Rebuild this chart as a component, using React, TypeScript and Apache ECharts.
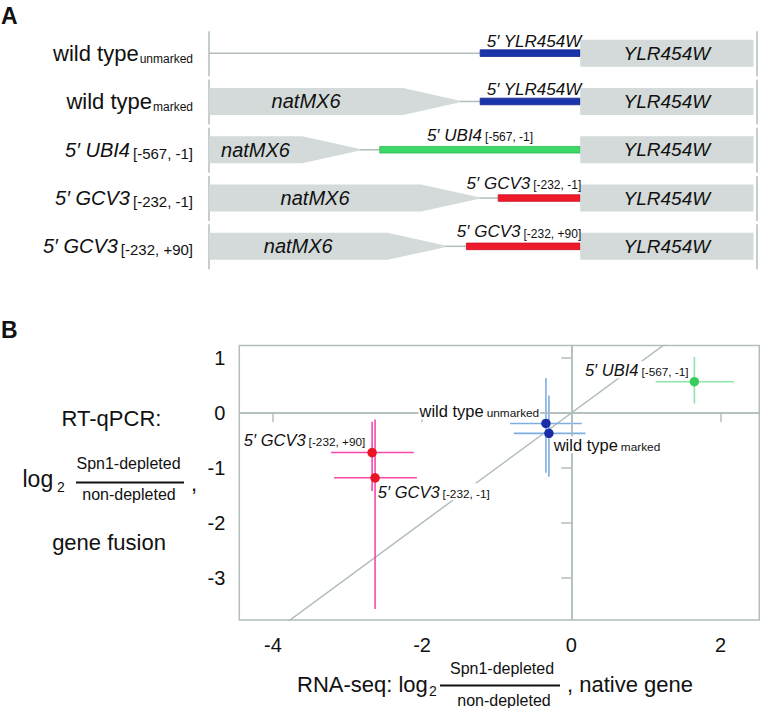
import React, { useEffect, useRef } from 'react';
import * as echarts from 'echarts';

// ---------- Panel A: constructs (positions in bp relative to the YLR454W start codon) ----------
const constructNames = ['wild type|unmarked', 'wild type|marked', '5′ UBI4|[-567, -1]', '5′ GCV3|[-232, -1]', '5′ GCV3|[-232, +90]'];
const natMX6End: (number | null)[] = [null, -501, -787, -450, -545];
const natMX6TaperEnd: (number | null)[] = [null, -340, -623, -286, -382];
const fusionStart = [-283, -283, -567, -232, -322];
const fusionEnd = [0, 0, 0, 0, 0];
const orfEnd = [490, 490, 490, 490, 490];
const fusionLabels = ['5′ YLR454W|', '5′ YLR454W|', '5′ UBI4|[-567, -1]', '5′ GCV3|[-232, -1]', '5′ GCV3|[-232, +90]'];
const markerName = 'natMX6';
const orfName = 'YLR454W';
const bpRange = [-1050, 500];

// ---------- Panel B: RT-qPCR vs RNA-seq ----------
const pointNames = ['wild type|unmarked', 'wild type|marked', '5′ UBI4|[-567, -1]', '5′ GCV3|[-232, -1]', '5′ GCV3|[-232, +90]'];
const rnaSeqLog2 = [-0.34, -0.30, 1.65, -2.63, -2.67];
const rtqpcrLog2 = [-0.19, -0.37, 0.57, -1.18, -0.72];
const rnaSeqLow = [-0.82, -0.77, 1.13, -3.18, -3.22];
const rnaSeqHigh = [0.14, 0.19, 2.18, -2.07, -2.11];
const rtqpcrLow = [-1.09, -1.16, 0.17, -3.57, -1.42];
const rtqpcrHigh = [0.64, 0.32, 1.02, -0.12, -0.16];
const xTicks = [-4, -2, 0, 2];
const yTicks = [-3, -2, -1, 0, 1];
const xRange = [-4.45, 2.52];
const yRange = [-3.77, 1.23];
const identityLine = [[-5, -5], [3, 3]];

// ---------- styles ----------
const FONT = "'Liberation Sans', Arial, Helvetica, sans-serif";
const INK = '#111111';
const GRAY_LINE = '#b1bebc';
const BOX_FILL = '#d3dad9';
const fusionColors = ['#1c34aa', '#1c34aa', '#3cd967', '#ee1a2c', '#ee1a2c'];
const fusionStroke = ['#14258c', '#14258c', '#2fb956', '#cc1222', '#cc1222'];
const fusionLabelAlign = ['right', 'right', 'center', 'right', 'right'];
const dotColors = ['#1a2ca8', '#1a2ca8', '#38cc5a', '#ea1423', '#ea1423'];
const errColors = ['#7eaee2', '#7eaee2', '#90e6a8', '#f548ad', '#f548ad'];
const labelPlacement: any[] = [
  { position: 'left', distance: 1, offset: [0, -12.5] },
  { position: 'right', distance: 0, offset: [-1, 11.5] },
  { position: 'left', distance: 0, offset: [0, -12] },
  { position: 'right', distance: 0, offset: [-3, 14] },
  { position: 'left', distance: 1, offset: [0, -13] },
];

function buildOption(): any {
  const rowLabelRich = {
    mw: { fontSize: 22, fontFamily: FONT, color: INK },
    mi: { fontSize: 20, fontStyle: 'italic', fontFamily: FONT, color: INK },
    ss: { fontSize: 12, fontFamily: FONT, color: INK, padding: [11, 0, 0, 1] },
    sb: { fontSize: 15, fontFamily: FONT, color: INK, padding: [7, 0, 0, 3] },
  };

  const pointLabelRich = {
    mw: { fontSize: 16.5, fontFamily: FONT, color: INK },
    mi: { fontSize: 16.5, fontStyle: 'italic', fontFamily: FONT, color: INK },
    s: { fontSize: 11.8, fontFamily: FONT, color: INK, padding: [4, 0, 0, 3] },
  };

  const constructRender = (params: any, api: any) => {
    const i = params.dataIndex;
    const row = api.value(1);
    const cs = params.coordSys;
    const xl = cs.x;
    const xr = cs.x + cs.width;
    const yc = api.coord([0, row])[1];
    const h = 27;
    const children: any[] = [];
    children.push({ type: 'line', shape: { x1: xl, y1: yc - 22, x2: xl, y2: yc + 23 }, style: { stroke: GRAY_LINE, lineWidth: 1.5 } });
    children.push({ type: 'line', shape: { x1: xr, y1: yc - 22, x2: xr, y2: yc + 23 }, style: { stroke: GRAY_LINE, lineWidth: 1.5 } });
    const xs = api.coord([fusionStart[i], row])[0];
    const xf = api.coord([fusionEnd[i], row])[0];
    const xe = api.coord([orfEnd[i], row])[0];
    let lineStart = xl;
    const ne = natMX6End[i];
    const te = natMX6TaperEnd[i];
    if (ne != null && te != null) {
      const xn = api.coord([ne, row])[0];
      const xt = api.coord([te, row])[0];
      children.push({
        type: 'polygon',
        shape: { points: [[xl, yc - h / 2], [xn, yc - h / 2], [xt, yc - 0.8], [xt, yc + 0.8], [xn, yc + h / 2], [xl, yc + h / 2]] },
        style: { fill: BOX_FILL },
      });
      children.push({
        type: 'text', x: (xl + xn) / 2, y: yc,
        style: { text: markerName, fontSize: 20, fontStyle: 'italic', fontFamily: FONT, fill: INK, align: 'center', verticalAlign: 'middle' },
      });
      lineStart = xt;
    }
    children.push({ type: 'line', shape: { x1: lineStart, y1: yc, x2: xs, y2: yc }, style: { stroke: GRAY_LINE, lineWidth: 1.5 } });
    children.push({ type: 'rect', shape: { x: xs, y: yc - 3.3, width: xf - xs, height: 6.6 }, style: { fill: fusionColors[i], stroke: fusionStroke[i], lineWidth: 0.8 } });
    children.push({ type: 'rect', shape: { x: xf, y: yc - h / 2, width: xe - xf, height: h }, style: { fill: BOX_FILL } });
    children.push({
      type: 'text', x: (xf + xe) / 2, y: yc,
      style: { text: orfName, fontSize: 19, fontStyle: 'italic', fontFamily: FONT, fill: INK, align: 'center', verticalAlign: 'middle' },
    });
    const [main, sub] = fusionLabels[i].split('|');
    const align = fusionLabelAlign[i];
    const lx = align === 'center' ? (xs + xf) / 2 : xf + 1;
    const text = sub ? `{mi|${main}}{s|${sub}}` : `{mi|${main}}`;
    children.push({
      type: 'text', x: lx, y: yc - (sub ? 14.5 : 11.7),
      style: {
        text, align, verticalAlign: 'middle', fill: INK,
        rich: {
          mi: { fontSize: 17, fontStyle: 'italic', fontFamily: FONT, fill: INK },
          s: { fontSize: 12, fontFamily: FONT, fill: INK, padding: [3.5, 0, 0, 3] },
        },
      },
    });
    return { type: 'group', children };
  };

  const errorRender = (params: any, api: any) => {
    const i = params.dataIndex;
    const l = api.coord([api.value(2), api.value(1)]);
    const r = api.coord([api.value(3), api.value(1)]);
    const b = api.coord([api.value(0), api.value(4)]);
    const t = api.coord([api.value(0), api.value(5)]);
    return {
      type: 'group',
      children: [
        { type: 'line', shape: { x1: l[0], y1: l[1], x2: r[0], y2: r[1] }, style: { stroke: errColors[i], lineWidth: 1.6 } },
        { type: 'line', shape: { x1: t[0], y1: t[1], x2: b[0], y2: b[1] }, style: { stroke: errColors[i], lineWidth: 1.6 } },
      ],
    };
  };

  const txt = (text: string, x: number, y: number, size: number, align = 'center', extra: any = {}) => ({
    type: 'text', x, y, silent: true,
    style: { text, fontSize: size, fontFamily: FONT, fill: INK, align, verticalAlign: 'middle', ...extra },
  });

  return {
    animation: false,
    backgroundColor: '#ffffff',
    textStyle: { fontFamily: FONT },
    grid: [
      { left: 239.3, top: 345.5, width: 520, height: 274.5, show: true, borderColor: GRAY_LINE, borderWidth: 1.5, backgroundColor: 'transparent' },
      { left: 209, top: 29, width: 548, height: 241.5 },
    ],
    xAxis: [
      {
        type: 'value', gridIndex: 0, min: xRange[0], max: xRange[1],
        axisLine: { show: true, lineStyle: { color: GRAY_LINE, width: 1.5 } },
        axisTick: { show: true, length: 9, customValues: xTicks, lineStyle: { color: GRAY_LINE, width: 1.5 } },
        axisLabel: { customValues: xTicks, fontSize: 20, color: INK, margin: 15, fontFamily: FONT },
        splitLine: { show: false },
      },
      { type: 'value', gridIndex: 1, min: bpRange[0], max: bpRange[1], show: false },
    ],
    yAxis: [
      {
        type: 'value', gridIndex: 0, min: yRange[0], max: yRange[1],
        axisLine: { show: true, lineStyle: { color: GRAY_LINE, width: 1.5 } },
        axisTick: { show: true, length: 10, customValues: yTicks, lineStyle: { color: GRAY_LINE, width: 1.5 } },
        axisLabel: { customValues: yTicks, fontSize: 20, color: INK, margin: 14, fontFamily: FONT },
        splitLine: { show: false },
      },
      {
        type: 'category', gridIndex: 1, data: constructNames, inverse: true,
        axisLine: { show: false }, axisTick: { show: false }, splitLine: { show: false },
        axisLabel: {
          margin: 16,
          formatter: (v: string) => {
            const [main, sub] = v.split('|');
            const italic = main.startsWith('5');
            const subStyle = sub.startsWith('[') ? 'sb' : 'ss';
            return `{${italic ? 'mi' : 'mw'}|${main}}{${subStyle}|${sub}}`;
          },
          rich: rowLabelRich,
        },
      },
    ],
    series: [
      {
        type: 'custom', xAxisIndex: 1, yAxisIndex: 1, z: 2,
        data: constructNames.map((n, i) => [fusionStart[i], i]),
        encode: { x: 0, y: 1 },
        renderItem: constructRender,
        silent: true,
      },
      {
        type: 'line', xAxisIndex: 0, yAxisIndex: 0, z: 1,
        data: identityLine, showSymbol: false, symbol: 'none', clip: true, silent: true,
        lineStyle: { color: GRAY_LINE, width: 1.5 },
        markLine: {
          silent: true, symbol: ['none', 'none'], label: { show: false },
          lineStyle: { color: GRAY_LINE, width: 1.5, type: 'solid' },
          data: [{ xAxis: 0 }, { yAxis: 0 }],
        },
      },
      {
        type: 'custom', xAxisIndex: 0, yAxisIndex: 0, z: 3, silent: true,
        data: pointNames.map((n, i) => [rnaSeqLog2[i], rtqpcrLog2[i], rnaSeqLow[i], rnaSeqHigh[i], rtqpcrLow[i], rtqpcrHigh[i]]),
        encode: { x: [0, 2, 3], y: [1, 4, 5] },
        renderItem: errorRender,
      },
      {
        type: 'scatter', xAxisIndex: 0, yAxisIndex: 0, z: 6, symbolSize: 9.5, silent: true,
        itemStyle: { opacity: 1 },
        data: pointNames.map((n, i) => ({
          name: n,
          value: [rnaSeqLog2[i], rtqpcrLog2[i]],
          itemStyle: { color: dotColors[i], opacity: 1 },
          label: { show: true, ...labelPlacement[i] },
        })),
        label: {
          show: true,
          color: INK,
          opacity: 1,
          backgroundColor: '#ffffff',
          padding: [0, 1],
          formatter: (p: any) => {
            const [main, sub] = String(p.name).split('|');
            const italic = main.startsWith('5');
            return `{${italic ? 'mi' : 'mw'}|${main}}{s|${sub}}`;
          },
          rich: pointLabelRich,
        },
      },
    ],
    graphic: [
      txt('A', 1, 16, 23, 'left', { fontWeight: 'bold' }),
      txt('B', 1, 330, 23, 'left', { fontWeight: 'bold' }),
      // y-axis title
      txt('RT-qPCR:', 111.5, 418, 22),
      txt('log', 22.5, 479, 23, 'left'),
      txt('2', 57, 487, 14, 'left'),
      txt('Spn1-depleted', 128.5, 463, 16),
      { type: 'line', silent: true, shape: { x1: 76, y1: 482.5, x2: 184, y2: 482.5 }, style: { stroke: INK, lineWidth: 2 } },
      txt('non-depleted', 129, 494, 16),
      txt(',', 191, 483, 22, 'left'),
      txt('gene fusion', 109, 542, 22),
      // x-axis title
      txt('RNA-seq: log', 297, 684, 22, 'left'),
      txt('2', 429, 691, 14, 'left'),
      txt('Spn1-depleted', 502, 668, 16),
      { type: 'line', silent: true, shape: { x1: 440, y1: 685.5, x2: 560, y2: 685.5 }, style: { stroke: INK, lineWidth: 2 } },
      txt('non-depleted', 504, 700, 16),
      txt(', native gene', 567, 684, 22, 'left'),
    ],
  };
}

export default function App() {
  const ref = useRef<HTMLDivElement>(null);
  useEffect(() => {
    if (!ref.current) return;
    const chart = echarts.init(ref.current, null, { renderer: 'svg' });
    chart.setOption(buildOption());
    return () => chart.dispose();
  }, []);
  return (
    <div
      ref={ref}
      style={{ position: 'fixed', left: 0, top: 0, width: 760, height: 708, background: '#ffffff' }}
    />
  );
}
